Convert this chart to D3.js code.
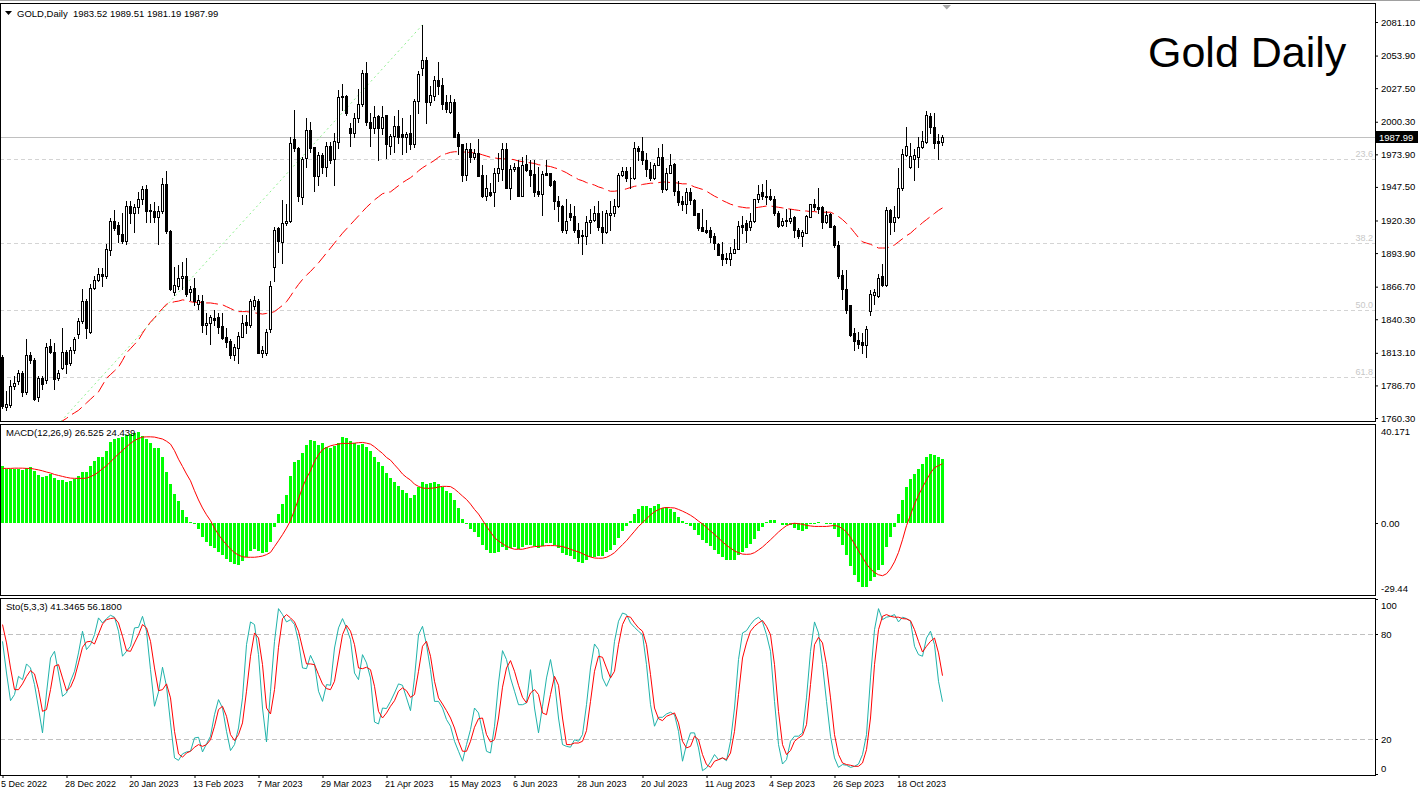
<!DOCTYPE html>
<html>
<head>
<meta charset="utf-8">
<title>Gold Daily</title>
<script src="https://cdn.jsdelivr.net/npm/d3@7"></script>
<style>
  html, body { margin: 0; padding: 0; background: #fff; }
  svg { display: block; }
  text { font-family: "Liberation Sans", Arial, sans-serif; }
</style>
</head>
<body>
<svg id="chart" width="1420" height="793"></svg>
<script>

// ---- data (GOLD, D1, 5 Dec 2022 -> 2 Nov 2023) ----
const symbol = 'GOLD,Daily'

const open = [
1810,1769,1771,1786,1790,1797,1781,1811,1807,1777,1793,1791,1819,1814,1793,1801,1814,1805,1815,1828,
1839,1855,1830,1866,1872,1877,1875,1896,1920,1917,1909,1904,1932,1926,1931,1938,1946,1929,1928,1923,
1928,1950,1912,1862,1867,1874,1875,1862,1866,
1853,1855,1836,1837,1841,1842,1835,1826,1823,1811,1817,1826,1838,1836,1851,1855,1813,1813,1832,1883,
1914,1903,1918,1920,1986,1979,1939,1971,1994,1980,1956,1973,1964,1981,1970,1984,2021,2021,1995,1991,
2003,2015,2040,2000,1995,2005,1995,
2006,1981,1989,1997,1990,1988,1991,1982,2017,2044,2050,2016,2021,2034,2030,2016,2008,2016,1990,1982,
1957,1978,1972,1975,1957,1940,1943,1943,1959,1962,1978,1947,1962,1964,1940,1966,1961,1958,1944,1942,
1959,1959,1952,1936,1932,1913,1926,1924,
1913,1908.6,1908,1919,1921,1926,1915,1911,1925,1926,1932,1957,1960,1955,1955,1979,1977,1969,1962,1955,
1965,1972,1946,1959,1966,1944,1936,1934,1943,1937,1926,1915,1913,1913,1908,1901,1893,1890,1889,1894,
1897,1917,1918,1915,1920,1938,1943,
1940,1940,1938,1926,1917,1920,1919.5,1923.5,1913,1908,1910.5,1923.5,1934,1931.6,1931,1919,1925.6,1916,1900.5,1876,
1865,1852,1829,1823.6,1822,1819.6,1847,1860,1859,1875,1868,1929,1919,1923,1946.5,1973.5,1963.5,1970,1972,1979.6,
1984,2005,1996,1985,1983.52]

const high = [
1811,1782,1791,1794,1799,1798,1824,1814,1809,1794,1794,1821,1824,1821,1799,1833,1815,1818,1826,1841,
1865,1857,1869,1875,1882,1882,1901,1922,1929,1919,1926,1936,1936,1934,1943,1948,1949,1934,1935,1932,
1955,1960,1913,1883,1884,1887,1890,1867,1874,
1860,1860,1845,1844,1848,1845,1845,1833,1824,1820,1830,1844,1844,1857,1859,1857,1819,1832,1871,1915,
1915,1937,1934,1988,2010,1980,1972,2003,2000,1980,1976,1975,1984,1984,1991,2026,2031,2022,1999,2007,
2027,2042,2049,2007,2013,2006,2013,
2006,1990,2005,2010,2003,1992,2006,2019,2041,2079,2053,2029,2037,2049,2036,2022,2022,2019,1992,1982,
1983,1983,1978,1986,1965,1957,1951,1963,1975,1983,1983,1965,1967,1969,1972,1973,1969,1969,1964,1960,
1969,1959,1953,1940,1933,1938,1934,1932,
1918,1913,1924,1930,1932,1936,1928,1929,1936,1938,1959,1964,1964,1964,1984,1981,1988,1975,1968,1967,
1979,1982,1963,1974,1967,1952,1940,1947,1947,1938,1926,1930,1921,1915,1910,1902,1903,1894,1899,1905,
1920,1924,1921,1926,1938,1949,1950,
1953,1946,1940,1928,1922,1930,1930,1924,1914,1913,1925,1934,1938,1947,1932,1928,1926,1917,1904,1880,
1880,1852,1833,1830,1829,1835,1864,1865,1877,1885,1931,1930,1932,1963,1978,1996.4,1983,1978,1988,1993,
2009,2007,2007,1990,1989.51]

const low = [
1768,1767,1769,1784,1788,1778,1780,1805,1775,1774,1784,1789,1813,1784,1791,1800,1797,1803,1813,1825,
1837,1825,1829,1865,1871,1867,1874,1892,1913,1903,1902,1901,1918,1911,1926,1934,1919,1919,1919,1901,
1926,1910,1864,1860,1865,1865,1859,1856,1852,
1849,1830,1828,1820,1836,1829,1824,1818,1809,1807,1805,1826,1829,1834,1849,1813,1810,1811,1830,1871,
1895,1886,1917,1919,1977,1936,1934,1964,1976,1944,1949,1959,1956,1967,1949,1979,2010,2006,1981,1988,
2000,2013,1998,1981,1991,1969,1990,
1971,1974,1976,1983,1974,1976,1978,1980,2007,2038,1999,2014,2018,2023,2011,2008,2007,1988,1974,1952,
1953,1968,1970,1956,1939,1937,1940,1932,1952,1953,1947,1938,1960,1940,1940,1960,1948,1940,1940,1925,
1957,1948,1930,1920,1911,1910,1921,1911,
1902,1893,1901,1910,1920,1913,1902,1910,1913,1924,1931,1956,1952,1947,1954,1969,1966,1956,1953,1954,
1965,1943,1945,1959,1941,1933,1929,1926,1934,1925,1913,1912,1910,1903,1897,1892,1884,1886,1884,1894,
1897,1910,1903,1913,1919,1935,1938,
1934,1937,1925,1915,1916,1916,1918,1907,1906,1900,1910,1923,1929,1926,1914,1918.6,1915,1899,1873.5,1857,
1845.6,1826.8,1815,1817,1813,1810,1844,1853,1858,1867,1867,1909,1912,1922,1944.6,1972.6,1962.6,1953,1964,1978.8,
1983,1991,1979,1970,1981.19]

const close = [
1770,1771.5,1786,1789,1797,1781,1811,1807,1776,1793,1788,1818,1814,1792,1797,1814,1804,1815,1824,1839,
1855,1833,1866,1872,1877,1875,1897,1920,1914,1909,1904,1932,1926,1931,1938,1946,1928,1928,1923,1928,
1950,1912,1865,1868,1874,1875,1861,1865,1855,
1856,1836,1837,1842,1840,1834,1825,1822,1811,1818,1827,1837,1836,1855,1856,1813,1815,1830,1867,1913,
1904,1918,1920,1983,1979,1940,1970,1994,1979,1956,1973,1964,1981,1969,1985,2020,2020,2007,1991,2003,
2015,2040,2000,1995,2004,1995,2004,
1982,1989,1997,1988,1988,1990,1982,2017,2039,2050,2016,2022,2034,2029,2015,2011,2016,1988,1981,1957,
1978,1972,1975,1956,1940,1947,1941,1959,1963,1978,1947,1962,1964,1940,1965,1961,1957,1943,1942,1958,
1957,1949,1936,1932,1913,1920,1923,1913,
1907,1908,1919,1921,1926,1915,1911,1926,1926,1932,1957,1960,1955,1955,1979,1977,1969,1962,1955,1965,
1972,1946,1959,1965,1944,1935,1934,1943,1937,1925,1914,1912,1911,1907,1902,1892,1889,1889,1894,1897,
1916,1915,1913,1920,1938,1942,1940,
1939,1938,1926,1916,1920,1920.3,1922,1913,1908,1911,1924,1934,1931,1929.4,1919,1925,1915.4,1900.5,1875,1864.6,
1848,1827.6,1823,1820.4,1819.6,1832,1861,1862,1874,1868,1929,1919,1923,1947,1974,1980.7,1972.6,1973.5,1980,1985,
2006,1996,1983,1983,1987.99]

// red dashed moving average, first value belongs to bar 14
const maStart = 14
const maLine = [
1755,1758,1760,1762.5,1764.5,1766.5,1769.5,1772.5,1775.5,1778.5,
1781.5,1787,1792.5,1795.5,1798.5,1801.5,1807,1813,1816.5,1820,
1823.5,1829,1834,1838,1841.5,1845.5,1849,1852.5,1853.5,1854.5,
1855,1856,1855.5,1854.5,1854,1854,1854,1853.5,1853.5,1853,
1852.5,1852,1850.5,1849,1847.5,1846.5,1846.5,1846.5,1846,1845.5,
1845,1844.5,1845,1845.5,1846.5,1849,1851.5,1854.5,1859,1864,
1868.5,1872.5,1876,1879,1882.5,1886,1890,1894,1898,1902,
1906,1910,1913.5,1917,1920.5,1924,1927.5,1931,1934,1937,
1939.5,1942,1943,1943.5,1946,1948.5,1951,1953,1955,1957.5,
1960.5,1963,1965,1967,1969,1971.5,1973.5,1974.5,1975.5,1976,
1976,1976,1975.5,1975.5,1975,1974.5,1973.5,1972.5,1971.5,1971,
1970.5,1970.5,1970,1970,1969.5,1968.5,1968,1967.5,1967,1966.5,
1965.5,1965,1964.5,1964,1963,1962,1960.5,1959,1957,1955.5,
1953.5,1952.5,1951,1950,1949,1947.5,1946.5,1945,1944,1944,
1944.5,1945,1946,1947,1948,1948.5,1949.5,1950,1950.5,1950.5,
1951,1951.5,1951.5,1951,1951,1950.5,1950,1950,1949,1947.5,
1946.5,1945.5,1944,1942,1940,1938.5,1936.5,1935,1933.5,1932.5,
1931.5,1931,1930.5,1930.5,1930.5,1931,1931.5,1932,1932,1931.5,
1931,1930.5,1930,1929.5,1929,1928.5,1928,1928,1927.5,1927.5,
1927,1927,1927,1927,1925.5,1923.5,1921,1918,1914.5,1910.5,
1906.5,1903,1902,1901,1899.5,1898,1898,1898,1899,1900.5,
1903,1905.5,1908,1910,1913,1915.5,1918.5,1921,1923.5,1926,
1928.5,1930.5]

// fibonacci retracement anchors (bar index, price) and levels
const fibLow = { bar: -25, price: 1616.9 }
const fibHigh = { bar: 105, price: 2078.8 }
const fibLevels = [23.6, 38.2, 50.0, 61.8]

const macdMain = [
23.6,22.2,22.2,22.2,22.2,21.8,22.6,22.9,21.5,19.9,18.8,19.5,20.2,18.5,17.7,17.7,17.1,17.4,18.1,19.2,
21.1,20.9,23.3,25.4,27.0,27.4,29.5,33.2,34.6,35.0,35.3,36.2,36.6,37.0,37.3,35.7,34.6,32.8,31.1,30.9,
27.4,20.9,16.0,11.9,8.9,5.3,2.6,0.3,
-0.4,-2.5,-5.6,-8.0,-9.3,-10.3,-11.8,-13.2,-14.8,-16.2,-16.9,-17.1,-15.5,-14.1,-11.7,-10.7,-11.4,-12.5,-12.1,-8.0,
-1.8,3.7,7.8,11.7,19.5,25.2,25.9,28.7,32.2,34.2,33.6,32.2,32.8,31.4,31.1,31.8,32.8,35.3,35.0,33.6,
32.9,32.2,32.5,31.4,29.5,27.4,25.0,23.3,
20.4,18.5,17.1,15.4,13.6,12.2,10.3,11.5,14.7,17.1,16.0,16.3,16.7,16.0,15.0,13.3,12.2,9.5,6.2,1.6,
-0.2,-2.5,-3.6,
-5.9,-8.9,-11.1,-12.5,-12.2,-11.8,-10.0,-11.0,-10.3,-10.0,-10.7,-10.0,-8.9,-8.9,-9.3,-10.3,-9.3,-8.4,-8.1,-8.9,
-10.3,-12.3,-13.2,-13.6,-14.8,-15.9,-16.5,-15.2,-14.1,-13.9,-13.7,-13.6,-12.1,-11.1,-8.9,-6.2,-3.4,-1.4,0.8,3.7,
5.8,6.9,
6.9,6.2,6.9,7.8,6.2,6.4,5.8,4.4,2.3,0.7,-0.2,-1.1,-2.9,-4.9,-7.0,-8.4,-9.3,-11.1,-12.8,-14.1,
-15.2,-15.2,-15.2,-13.0,-12.1,-10.3,-8.6,-6.6,-3.4,-1.5,0.3,1.1,1.1,-0.1,-0.7,-0.7,-0.8,-2.1,-2.9,-3.2,
-2.5,-0.4,-0.2,0.3,0.1,-0.2,-0.4,-2.5,-5.6,-9.1,-13.0,-17.6,-21.3,-24.1,-26.2,-26.5,-24.0,-22.1,-19.2,-17.1,
-10.0,-5.9,-1.8,3.7,9.5,15.0,18.1,20.2,22.2,24.3,27.0,28.4,28.0,27.3,26.525]

const macdSignal = [
22.5,22.5,22.5,22.6,22.6,22.6,22.5,22.5,22.2,21.9,21.5,21.0,20.6,20.0,19.6,19.2,18.8,18.5,18.4,18.4,
18.4,18.5,19.1,19.9,21.0,22.4,23.6,25.2,26.9,28.4,29.9,31.4,32.8,34.0,34.8,35.4,35.5,35.5,35.4,35.0,
34.6,33.7,32.5,29.8,26.3,23.3,20.2,17.4,
13.3,9.5,6.2,3.4,1.0,-2.1,-4.8,-7.0,-8.9,-10.7,-12.2,-13.2,-13.9,-14.1,-14.1,-14.1,-13.9,-13.6,-13.0,-12.1,
-9.7,-7.3,-4.8,-2.1,1.0,5.3,9.9,14.7,18.5,21.5,25.4,28.1,30.2,31.1,31.8,32.2,32.5,32.8,32.8,32.8,
32.9,33.1,33.2,32.9,32.5,31.4,30.0,28.7,
27.0,25.9,24.0,22.2,20.2,18.8,17.7,16.0,15.1,14.4,14.3,14.3,14.5,14.8,15.1,15.1,15.0,14.0,12.6,11.1,
9.7,7.8,5.6,
3.7,1.2,-1.4,-3.7,-6.0,-7.4,-8.5,-9.6,-10.3,-10.8,-10.8,-10.8,-10.4,-10.0,-9.7,-9.6,-9.5,-9.3,-9.3,-9.3,
-9.5,-9.7,-10.2,-10.8,-11.4,-11.9,-12.6,-13.4,-14.0,-14.4,-14.5,-14.5,-14.1,-13.3,-12.2,-10.6,-8.9,-7.3,-5.3,-3.4,
-1.4,0.1,
1.8,3.3,4.7,5.5,6.2,6.4,6.3,6.2,5.6,4.9,4.1,3.2,2.1,0.8,-0.4,-1.8,-3.3,-4.7,-6.2,-7.7,
-9.2,-10.3,-11.5,-12.2,-12.8,-12.9,-12.8,-12.2,-11.1,-9.9,-8.4,-6.9,-5.3,-3.7,-2.3,-1.1,-0.4,-0.1,-0.3,-0.5,
-1.0,-1.2,-1.4,-1.4,-1.4,-1.4,-1.2,-1.0,-1.4,-2.3,-3.7,-5.9,-8.6,-11.4,-14.1,-16.9,-18.9,-20.4,-21.3,-21.7,
-20.9,-18.9,-16.0,-12.1,-6.9,-1.1,3.4,7.8,11.4,14.7,17.7,20.6,22.8,23.6,24.439]

const stoK = [
75.8,57.7,41.9,45.4,55.8,53.9,62.9,60.6,51.1,37.7,23.5,46.3,66.3,70.1,57.7,44.4,46.3,53.0,58.7,69.2,
81.6,71.1,73.9,79.6,89.2,86.3,88.8,90.7,89.6,81.6,67.3,70.1,73.0,83.5,83.8,90.1,81.6,59.6,38.7,46.9,
61.0,50.1,29.2,9.2,7.8,11.5,12.6,13.0,20.6,21.0,12.6,17.2,21.6,33.9,42.5,37.7,24.4,13.4,16.8,26.3,
43.5,73.9,86.9,85.4,68.2,37.7,18.3,47.3,75.8,94.5,91.1,86.9,88.2,85.4,75.8,60.6,60.2,67.8,62.9,47.3,
41.5,51.1,50.7,72.0,83.5,88.8,83.5,76.8,57.7,53.9,68.2,63.5,54.9,29.7,28.6,37.7,37.4,41.5,46.3,51.5,
50.7,43.5,36.2,54.9,79.6,84.4,73.9,59.6,41.5,41.5,37.7,31.1,27.3,18.7,13.0,7.3,16.8,25.4,37.7,34.9,
24.4,13.0,12.0,27.3,52.0,70.5,65.4,54.9,47.3,39.6,39.6,40.6,59.6,37.7,23.5,38.7,54.9,65.4,53.0,32.0,
16.8,15.8,15.3,19.6,18.7,22.5,39.6,60.6,74.3,71.1,54.9,50.1,55.3,75.8,87.3,92.0,91.1,86.3,83.8,81.6,
79.6,62.5,39.6,27.3,32.4,32.4,34.3,35.3,33.9,24.4,7.3,16.8,23.5,23.5,14.9,1.9,3.5,6.9,11.1,8.2,
9.2,7.6,18.7,37.7,65.4,80.6,81.9,85.4,88.2,89.6,86.9,79.6,70.1,41.5,16.8,5.7,8.2,18.7,21.6,21.6,
23.5,43.5,70.1,86.9,80.6,62.5,41.5,21.6,9.2,3.8,5.4,5.0,3.8,4.4,5.7,11.1,22.5,54.9,82.5,94.5,
88.2,89.6,90.1,91.1,86.9,89.6,88.8,87.3,73.0,68.2,67.3,77.7,81.6,73.9,53.0,41.3465]

const stoD = [
85.4,74.9,60.6,48.2,48.2,51.5,55.8,59.1,57.2,48.2,35.8,36.8,48.2,61.6,62.5,54.9,47.6,49.6,54.9,63.5,
72.4,75.5,75.8,74.3,80.0,85.7,88.2,88.8,89.2,86.3,78.7,70.5,70.1,74.9,79.6,85.4,83.5,75.8,60.6,47.6,
48.2,51.5,43.5,24.4,11.5,9.6,12.0,13.0,15.3,16.8,15.8,16.8,19.6,27.3,36.8,38.7,33.0,22.5,19.1,22.5,
29.2,47.3,67.3,80.6,77.7,62.5,37.7,34.3,48.2,72.4,88.8,91.1,89.2,86.9,81.6,72.0,62.9,62.9,62.5,56.8,
51.5,48.8,48.2,53.0,66.3,79.6,85.0,81.6,73.9,60.6,60.2,61.0,59.6,50.1,35.8,32.0,34.9,38.7,41.9,47.3,
49.2,47.6,43.8,45.4,58.7,73.0,75.8,67.3,53.0,43.5,40.0,36.2,32.0,26.3,18.7,13.0,13.0,18.7,26.7,31.6,
32.0,22.5,18.3,19.6,32.0,49.6,60.6,64.8,58.7,50.7,43.8,40.6,46.3,48.2,45.4,34.9,33.9,45.4,55.8,50.7,
32.0,16.8,16.8,17.7,17.7,18.7,24.8,41.5,58.7,67.3,66.7,60.6,54.9,58.7,73.9,85.4,90.1,89.6,86.3,83.5,
81.6,73.9,56.8,37.7,31.6,30.5,33.0,33.9,34.9,29.2,18.7,14.9,15.8,21.6,19.6,11.1,5.4,3.8,7.3,8.2,
9.2,8.2,12.0,24.4,45.4,66.3,74.9,81.6,84.4,86.3,87.7,84.4,79.6,62.5,35.8,16.8,11.1,13.4,18.7,20.6,
22.1,28.2,51.1,73.9,78.1,74.9,62.5,43.5,22.5,11.1,6.3,5.4,5.0,4.4,4.4,6.3,13.9,32.0,62.5,82.5,
90.1,91.1,90.1,89.6,89.6,88.8,88.6,87.6,82.5,75.8,69.7,73.0,75.8,77.7,69.2,56.18]

// axis labels
const priceTicks = [2081.10, 2053.90, 2027.50, 2000.30, 1973.90, 1947.50, 1920.30, 1893.90, 1866.70, 1840.30, 1813.10, 1786.70, 1760.30]
const macdTicks = [40.171, 0, -29.44]
const macdTickLabels = ['40.171', '0.00', '-29.44']
const stoTicks = [100, 80, 20, 0]
const stoLevels = [80, 20]
const dateIdx = [0, 16, 32, 48, 64, 80, 96, 112, 128, 144, 160, 176, 192, 208, 224]
const dateLabels = ['5 Dec 2022', '28 Dec 2022', '20 Jan 2023', '13 Feb 2023', '7 Mar 2023', '29 Mar 2023', '21 Apr 2023',
  '15 May 2023', '6 Jun 2023', '28 Jun 2023', '20 Jul 2023', '11 Aug 2023', '4 Sep 2023', '26 Sep 2023', '18 Oct 2023']


// ---- layout ----
const W = 1420, H = 793
const plotR = 1375
const N = close.length
const mainP = { top: 3, bottom: 421 }
const macdP = { top: 424, bottom: 595 }
const stoP = { top: 598, bottom: 775 }
const font = '"Liberation Sans", Arial, sans-serif'

const crisp = v => Math.round(v) + 0.5

const svg = d3.select('#chart')
svg.append('rect').attr('width', W).attr('height', H).attr('fill', '#fff')

// 4px per bar, bar 0 centred on pixel column 2
const x = d3.scaleLinear().domain([0, 1]).range([2.5, 6.5])
const y = d3.scaleLinear().domain([priceTicks[priceTicks.length - 1], priceTicks[0]]).range([418, 22])
const yMacd = d3.scaleLinear().domain([macdTicks[2], macdTicks[0]]).range([594.5, 425.5])
const ySto = d3.scaleLinear().domain([0, 100]).range([774, 599])

const defs = svg.append('defs')
;[['clipMain', mainP], ['clipMacd', macdP], ['clipSto', stoP]].forEach(([id, p]) => {
  defs.append('clipPath').attr('id', id)
    .append('rect').attr('x', 1).attr('y', p.top + 1).attr('width', plotR - 1).attr('height', p.bottom - p.top - 0.5)
})

// ---- main pane ----
const gMain = svg.append('g').attr('clip-path', 'url(#clipMain)')

// fibo levels
const fibY = lvl => y(fibHigh.price - (fibHigh.price - fibLow.price) * lvl / 100)
gMain.selectAll('line.fib').data(fibLevels).join('line')
  .attr('class', 'fib')
  .attr('x1', 0).attr('x2', plotR)
  .attr('y1', d => crisp(fibY(d))).attr('y2', d => crisp(fibY(d)))
  .attr('stroke', '#d4d4d4').attr('stroke-dasharray', '4,3')
  .attr('shape-rendering', 'crispEdges')

gMain.selectAll('text.fib').data(fibLevels).join('text')
  .attr('class', 'fib')
  .attr('x', plotR - 2).attr('y', d => Math.round(fibY(d)) - 2)
  .attr('text-anchor', 'end')
  .attr('font-size', 9).attr('fill', '#c8c8c8')
  .text(d => d.toFixed(1))

// fibo trend line
gMain.append('line')
  .attr('x1', x(fibLow.bar)).attr('y1', y(fibLow.price))
  .attr('x2', x(fibHigh.bar)).attr('y2', y(fibHigh.price))
  .attr('stroke', '#90ee90').attr('stroke-dasharray', '2,3')

// bid line
gMain.append('line')
  .attr('x1', 0).attr('x2', plotR)
  .attr('y1', crisp(y(close[N - 1]))).attr('y2', crisp(y(close[N - 1])))
  .attr('stroke', '#c0c0c0').attr('shape-rendering', 'crispEdges')

// moving average
const maLineGen = d3.line().x((d, k) => x(k + maStart)).y(d => y(d))
gMain.append('path')
  .attr('d', maLineGen(maLine))
  .attr('fill', 'none').attr('stroke', '#ff0000').attr('stroke-width', 1)
  .attr('stroke-dasharray', '12,5')

// candles
const bars = d3.range(N).map(i => ({ i, o: open[i], h: high[i], l: low[i], c: close[i] }))

gMain.append('g').selectAll('line').data(bars).join('line')
  .attr('x1', d => x(d.i)).attr('x2', d => x(d.i))
  .attr('y1', d => Math.round(y(d.h))).attr('y2', d => Math.round(y(d.l)) + 1)
  .attr('stroke', '#000').attr('shape-rendering', 'crispEdges')

gMain.append('g').selectAll('path').data(bars).join('path')
  .attr('d', d => {
    const t = crisp(y(Math.max(d.o, d.c)))
    const b = crisp(y(Math.min(d.o, d.c)))
    return `M${x(d.i) - 1},${t}h2V${b}h-2Z`
  })
  .attr('fill', d => d.c >= d.o ? '#fff' : '#000')
  .attr('stroke', '#000').attr('stroke-linecap', 'square')
  .attr('shape-rendering', 'crispEdges')

// ---- MACD pane ----
const gMacd = svg.append('g').attr('clip-path', 'url(#clipMacd)')
const zeroY = Math.round(yMacd(0))
gMacd.selectAll('rect').data(macdMain).join('rect')
  .attr('x', (d, i) => x(i) - 1.5)
  .attr('width', 3)
  .attr('y', d => d >= 0 ? Math.round(yMacd(d)) : zeroY)
  .attr('height', d => Math.abs(Math.round(yMacd(d)) - zeroY))
  .attr('fill', '#00ff00')
  .attr('shape-rendering', 'crispEdges')

gMacd.append('path')
  .attr('d', d3.line().x((d, i) => x(i)).y(d => yMacd(d))(macdSignal))
  .attr('fill', 'none').attr('stroke', '#ff0000').attr('stroke-width', 1)

// ---- Stochastic pane ----
const gSto = svg.append('g').attr('clip-path', 'url(#clipSto)')
gSto.selectAll('line.lvl').data(stoLevels).join('line')
  .attr('class', 'lvl')
  .attr('x1', 0).attr('x2', plotR)
  .attr('y1', d => crisp(ySto(d))).attr('y2', d => crisp(ySto(d)))
  .attr('stroke', '#c0c0c0').attr('stroke-dasharray', '5,3')
  .attr('shape-rendering', 'crispEdges')

const stoLine = d3.line().x((d, i) => x(i)).y(d => ySto(d))
gSto.append('path').attr('d', stoLine(stoK))
  .attr('fill', 'none').attr('stroke', '#20b2aa').attr('stroke-width', 1)
gSto.append('path').attr('d', stoLine(stoD))
  .attr('fill', 'none').attr('stroke', '#ff0000').attr('stroke-width', 1)

// ---- frames ----
svg.append('line').attr('x1', 0).attr('x2', W).attr('y1', 0.5).attr('y2', 0.5)
  .attr('stroke', '#a0a0a0').attr('shape-rendering', 'crispEdges')
;[mainP, macdP, stoP].forEach(p => {
  svg.append('rect')
    .attr('x', 0.5).attr('y', p.top + 0.5)
    .attr('width', plotR).attr('height', p.bottom - p.top)
    .attr('fill', 'none').attr('stroke', '#000').attr('shape-rendering', 'crispEdges')
})

// chart shift marker
svg.append('path').attr('d', 'M942.5,5h8.5l-4.25,4.5Z').attr('fill', '#a8a8a8')

// ---- axes ----
const styleAxis = g => {
  g.select('.domain').remove()
  g.attr('font-family', font).attr('font-size', 9.5)
  g.selectAll('text').attr('fill', '#000')
  g.selectAll('line').attr('stroke', '#000')
}

svg.append('g')
  .attr('transform', `translate(${plotR},0)`)
  .call(d3.axisRight(y).tickValues(priceTicks).tickSize(3).tickPadding(3).tickFormat(d3.format('.2f')))
  .call(styleAxis)

const gMacdAxis = svg.append('g')
  .attr('transform', `translate(${plotR},0)`)
  .call(d3.axisRight(yMacd).tickValues(macdTicks).tickSize(3).tickPadding(3).tickFormat((d, k) => macdTickLabels[k]))
  .call(styleAxis)
gMacdAxis.selectAll('.tick').filter(d => d !== 0).select('line').remove()
gMacdAxis.selectAll('.tick').filter(d => d === macdTicks[0]).select('text').attr('y', 6)
gMacdAxis.selectAll('.tick').filter(d => d === macdTicks[2]).select('text').attr('y', -6)

const gStoAxis = svg.append('g')
  .attr('transform', `translate(${plotR},0)`)
  .call(d3.axisRight(ySto).tickValues(stoTicks).tickSize(3).tickPadding(3).tickFormat(d3.format('d')))
  .call(styleAxis)
gStoAxis.selectAll('.tick').filter(d => d === 100).select('text').attr('y', 6)
gStoAxis.selectAll('.tick').filter(d => d === 0).select('text').attr('y', -6)

const gDate = svg.append('g')
  .attr('transform', `translate(0,${stoP.bottom})`)
  .call(d3.axisBottom(x).tickValues(dateIdx).tickSize(3).tickPadding(3).tickFormat((d, k) => dateLabels[k]))
  .call(styleAxis)
gDate.attr('font-size', 9)
gDate.selectAll('text').attr('text-anchor', 'start').attr('x', -2)

// last price tag
const lastY = Math.round(y(close[N - 1]))
svg.append('rect').attr('x', plotR + 1).attr('y', lastY - 6).attr('width', 42).attr('height', 12).attr('fill', '#000')
svg.append('text').attr('x', plotR + 4).attr('y', lastY + 4)
  .attr('font-size', 9.5).attr('fill', '#fff').text(close[N - 1].toFixed(2))

// ---- labels ----
svg.append('path').attr('d', 'M5,11h7l-3.5,4Z').attr('fill', '#000')
svg.append('text').attr('x', 17).attr('y', 16.5).attr('font-size', 9.5).attr('fill', '#000')
  .attr('xml:space', 'preserve')
  .text(`${symbol}  ${open[N - 1].toFixed(2)} ${high[N - 1].toFixed(2)} ${low[N - 1].toFixed(2)} ${close[N - 1].toFixed(2)}`)

svg.append('text').attr('x', 6).attr('y', 435.5).attr('font-size', 9.5).attr('fill', '#000')
  .text(`MACD(12,26,9) ${macdMain[N - 1].toFixed(3)} ${macdSignal[N - 1].toFixed(3)}`)

svg.append('text').attr('x', 6).attr('y', 609.5).attr('font-size', 9.5).attr('fill', '#000')
  .text(`Sto(5,3,3) ${stoK[N - 1].toFixed(4)} ${stoD[N - 1].toFixed(4)}`)

svg.append('text').attr('x', 1148).attr('y', 67).attr('font-size', 43).attr('fill', '#000')
  .text('Gold Daily')

</script>
</body>
</html>
